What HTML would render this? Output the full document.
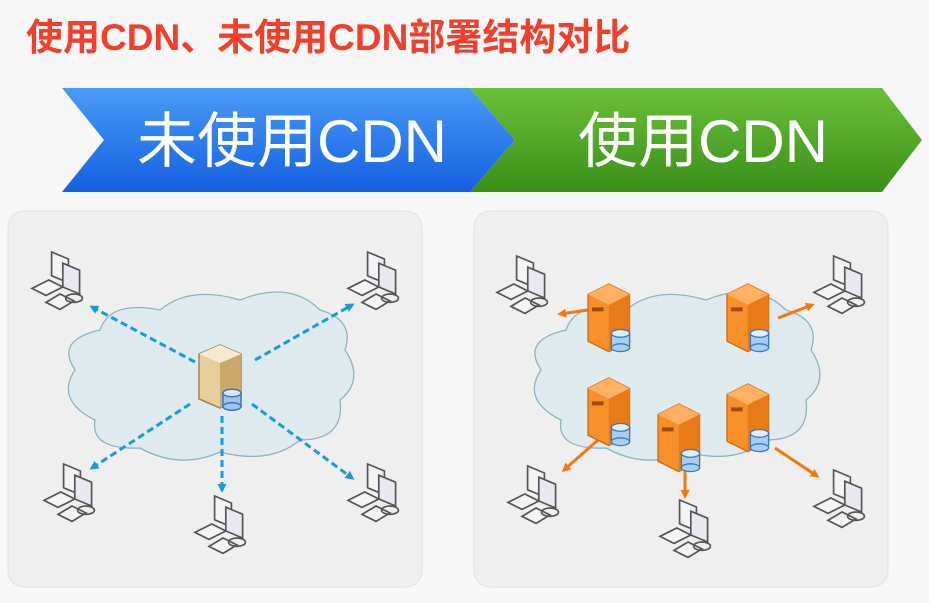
<!DOCTYPE html>
<html><head><meta charset="utf-8"><style>
body{margin:0;width:929px;height:598px;background:#f7f7f7;overflow:hidden;font-family:"Liberation Sans","Noto Sans CJK SC",sans-serif}
</style></head><body>
<svg width="929" height="598" viewBox="0 0 929 598" xmlns="http://www.w3.org/2000/svg">
<defs>
<linearGradient id="bl" x1="0" y1="0" x2="0" y2="1"><stop offset="0" stop-color="#4a9af8"/><stop offset="1" stop-color="#1560e0"/></linearGradient>
<linearGradient id="gr" x1="0" y1="0" x2="0" y2="1"><stop offset="0" stop-color="#6cbf3a"/><stop offset="1" stop-color="#3a9018"/></linearGradient>
<g id="pc">
 <g fill="#f4f4f6" stroke="#555" stroke-width="1.2">
  <path d="M14,0 L26,5 L26,22 L14,17 Z"/>
  <path d="M22,8 L34,13 L34,30 L22,25 Z" fill="#e8e8f0"/>
  <path d="M0,26 L12,20 L22,25 L10,31 Z"/>
  <path d="M10,36 L20,30 L30,35 L20,41 Z"/>
  <ellipse cx="30" cy="33" rx="6" ry="3" fill="none"/>
 </g>
</g>
<g id="srvY">
 <path d="M0,6 L14,0 L28,6 L28,36 L14,42 L0,36 Z" fill="#e6cf9a" stroke="#a08850"/>
 <path d="M14,12 L28,6 L28,36 L14,42 Z" fill="#c9a96a"/>
 <path d="M0,6 L14,0 L28,6 L14,12 Z" fill="#f5ead0"/>
 <rect x="16" y="32" width="12" height="9" fill="#9cc6f0" stroke="#3a78c0"/>
 <ellipse cx="22" cy="41" rx="6" ry="2.5" fill="#9cc6f0" stroke="#3a78c0"/>
 <ellipse cx="22" cy="32" rx="6" ry="2.5" fill="#d8eafc" stroke="#3a78c0"/>
</g>
<g id="srvO">
 <path d="M0,8 L16,0 L32,8 L32,44 L16,52 L0,44 Z" fill="#f7902a" stroke="#d06a10"/>
 <path d="M16,16 L32,8 L32,44 L16,52 Z" fill="#e87a18"/>
 <path d="M0,8 L16,0 L32,8 L16,16 Z" fill="#ffb060"/>
 <rect x="3" y="18" width="9" height="3" fill="#a04a08"/>
 <rect x="18" y="38" width="14" height="11" fill="#a8cdf3" stroke="#3a78c0"/>
 <ellipse cx="25" cy="49" rx="7" ry="3" fill="#a8cdf3" stroke="#3a78c0"/>
 <ellipse cx="25" cy="38" rx="7" ry="3" fill="#e0eefc" stroke="#3a78c0"/>
</g>
<marker id="ab" markerWidth="9" markerHeight="9" refX="6" refY="4.5" orient="auto" markerUnits="userSpaceOnUse"><path d="M0,0 L9,4.5 L0,9 Z" fill="#1a9ad6"/></marker>
<marker id="ao" markerWidth="9" markerHeight="9" refX="6" refY="4.5" orient="auto" markerUnits="userSpaceOnUse"><path d="M0,0 L9,4.5 L0,9 Z" fill="#f07a10"/></marker>
</defs>
<text x="26" y="50" font-size="37" font-weight="bold" fill="#f0402c">使用CDN、未使用CDN部署结构对比</text>
<path d="M62,88 L470,88 L515,140 L470,192 L62,192 L104,140 Z" fill="url(#bl)"/>
<path d="M470,88 L882,88 L922,140 L882,192 L470,192 L515,140 Z" fill="url(#gr)"/>
<text x="292" y="162" font-size="60" fill="#fff" text-anchor="middle">未使用CDN</text>
<text x="703" y="162" font-size="60" fill="#fff" text-anchor="middle">使用CDN</text>
<rect x="8" y="211" width="414" height="376" rx="16" fill="#efefef" stroke="#e2e2e2"/>
<rect x="474" y="211" width="414" height="376" rx="16" fill="#efefef" stroke="#e2e2e2"/>
<path d="M100,330 Q110,300 160,310 Q190,285 240,300 Q290,280 320,310 Q355,320 345,350 Q365,380 340,400 Q345,440 300,440 Q270,465 220,452 Q180,470 140,448 Q90,450 95,420 Q55,400 75,370 Q55,340 100,330 Z" fill="#dfeaee" stroke="#8fb3bf" stroke-width="1.3"/>
<path d="M566,330 Q576,300 626,310 Q656,285 706,300 Q756,280 786,310 Q821,320 811,350 Q831,380 806,400 Q811,440 766,440 Q736,465 686,452 Q646,470 606,448 Q556,450 561,420 Q521,400 541,370 Q521,340 566,330 Z" fill="#dfeaee" stroke="#8fb3bf" stroke-width="1.3"/>
<g stroke="#1a9ad6" stroke-width="3" stroke-dasharray="7,4" fill="none">
<path d="M195,362 L92,307" marker-end="url(#ab)"/>
<path d="M255,360 L352,305" marker-end="url(#ab)"/>
<path d="M190,404 L92,468" marker-end="url(#ab)"/>
<path d="M222,416 L222,490" marker-end="url(#ab)"/>
<path d="M252,404 L352,478" marker-end="url(#ab)"/>
</g>
<g stroke="#f07a10" stroke-width="3" fill="none">
<path d="M588,310 L560,314" marker-end="url(#ao)"/>
<path d="M778,318 L812,305" marker-end="url(#ao)"/>
<path d="M598,440 L564,470" marker-end="url(#ao)"/>
<path d="M685,470 L685,496" marker-end="url(#ao)"/>
<path d="M775,448 L817,476" marker-end="url(#ao)"/>
</g>
<use href="#pc" transform="translate(32,252) scale(1.4)"/>
<use href="#pc" transform="translate(348,252) scale(1.4)"/>
<use href="#pc" transform="translate(44,464) scale(1.4)"/>
<use href="#pc" transform="translate(195,496) scale(1.4)"/>
<use href="#pc" transform="translate(348,464) scale(1.4)"/>
<use href="#srvY" transform="translate(199,345) scale(1.5)"/>
<use href="#pc" transform="translate(497,256) scale(1.4)"/>
<use href="#pc" transform="translate(814,256) scale(1.4)"/>
<use href="#pc" transform="translate(508,466) scale(1.4)"/>
<use href="#pc" transform="translate(660,500) scale(1.4)"/>
<use href="#pc" transform="translate(814,470) scale(1.4)"/>
<use href="#srvO" transform="translate(588,284) scale(1.3)"/>
<use href="#srvO" transform="translate(727,284) scale(1.3)"/>
<use href="#srvO" transform="translate(588,378) scale(1.3)"/>
<use href="#srvO" transform="translate(658,404) scale(1.3)"/>
<use href="#srvO" transform="translate(727,384) scale(1.3)"/>
</svg>
</body></html>
